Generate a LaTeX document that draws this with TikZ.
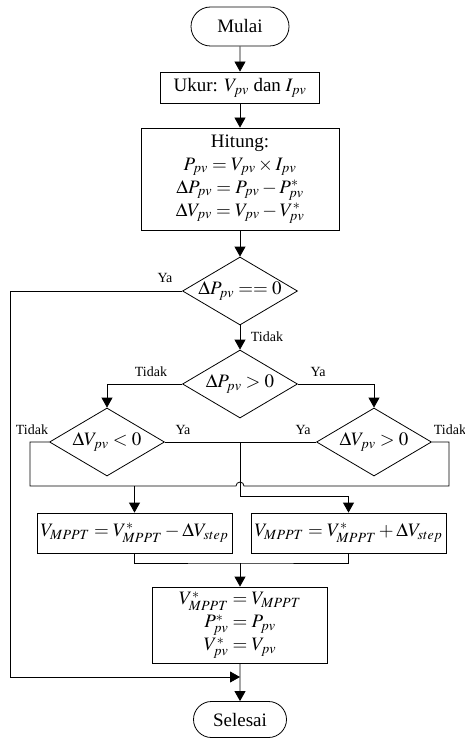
\documentclass[tikz,border=0pt]{standalone}
\usepackage{mathptmx}
\usepackage[no-math]{fontspec}
\setmainfont{Liberation Serif}
\usetikzlibrary{shapes.geometric,shapes.misc,arrows.meta}
\begin{document}
\begin{tikzpicture}[x=1pt,y=-1pt,
 every node/.style={font=\fontsize{19}{23}\selectfont},
 box/.style={draw, line width=0.8pt, inner sep=0pt, align=center},
 term/.style={draw, rounded rectangle, line width=0.8pt, inner sep=0pt},
 dec/.style={draw, diamond, aspect=1.69, line width=0.8pt, inner sep=0pt, minimum width=115pt, minimum height=68pt},
 lbl/.style={font=\fontsize{14}{16}\selectfont, inner sep=0pt},
 line/.style={line width=0.8pt},
 arr/.style={line width=0.8pt, -{Triangle[length=10pt,width=11pt]}}]
\useasboundingbox (0,0) rectangle (464,738);

\node[term, minimum width=98pt, minimum height=39pt] (start) at (240,26.5) {Mulai};
\node[box, minimum width=159pt, minimum height=31pt] (ukur) at (240,87.5) {Ukur: $V_{pv}$ dan $I_{pv}$};
\node[box, minimum width=198pt, minimum height=102pt] (hit) at (240,179) {Hitung:\\ $P_{pv} = V_{pv} \times I_{pv}$\\ $\Delta P_{pv} = P_{pv} - P^{*}_{pv}$\\ $\Delta V_{pv} = V_{pv} - V^{*}_{pv}$};
\node[dec] (d1) at (240,291) {$\Delta P_{pv} == 0$};
\node[dec] (d2) at (240,384) {$\Delta P_{pv} > 0$};
\node[dec] (d3) at (107,442) {$\Delta V_{pv} < 0$};
\node[dec] (d4) at (374,442) {$\Delta V_{pv} > 0$};
\node[box, minimum width=195pt, minimum height=40pt] (bl) at (134.5,533) {$V_{MPPT} = V^{*}_{MPPT} - \Delta V_{step}$};
\node[box, minimum width=195pt, minimum height=40pt] (br) at (348.5,533) {$V_{MPPT} = V^{*}_{MPPT} + \Delta V_{step}$};
\node[box, minimum width=175pt, minimum height=76pt] (fin) at (240,625) {$V^{*}_{MPPT} = V_{MPPT}$\\ $P^{*}_{pv} = P_{pv}$\\ $V^{*}_{pv} = V_{pv}$};
\node[term, minimum width=93pt, minimum height=36pt] (end) at (240,719.5) {Selesai};

\draw[arr] (start) -- (ukur);
\draw[arr] (ukur) -- (hit);
\draw[arr] (hit) -- (d1);
\draw[arr] (d1.south) -- (d2.north);

\coordinate (lpc) at (10,677);
\coordinate (mg) at (240,677);
\draw[arr] (d1.west) -| (lpc) -- (mg);

\draw[arr] (d2.west) -| (d3.north);
\draw[arr] (d2.east) -| (d4.north);

\coordinate (tl) at (30,486);
\coordinate (tr) at (449,486);
\coordinate (hopL) at (236,486);
\draw[line] (d3.west) -| (tl) -- (hopL) arc[start angle=180, end angle=0, radius=4pt] -- (tr) |- (d4.east);
\coordinate (ta) at (bl.north |- tl);
\draw[arr] (ta) -- (bl.north);

\coordinate (ym) at (240,442);
\coordinate (yb) at (240,496);
\draw[line] (d3.east) -- (d4.west);
\draw[arr] (ym) -- (yb) -| (br.north);

\coordinate (jn) at (240,563);
\draw[line] (bl.south) |- (jn) -| (br.south);
\draw[arr] (jn) -- (fin.north);
\draw[arr] (fin) -- (end);

\node[lbl] (lya1) at (165,278) {Ya};
\node[lbl] (lt1) at (267,337) {Tidak};
\node[lbl] (lt2) at (151,372) {Tidak};
\node[lbl] (lya2) at (318,372) {Ya};
\node[lbl] (lt3) at (32,430) {Tidak};
\node[lbl] (lya3) at (183,430) {Ya};
\node[lbl] (lya4) at (303,430) {Ya};
\node[lbl] (lt4) at (450,430) {Tidak};
\end{tikzpicture}
\end{document}
